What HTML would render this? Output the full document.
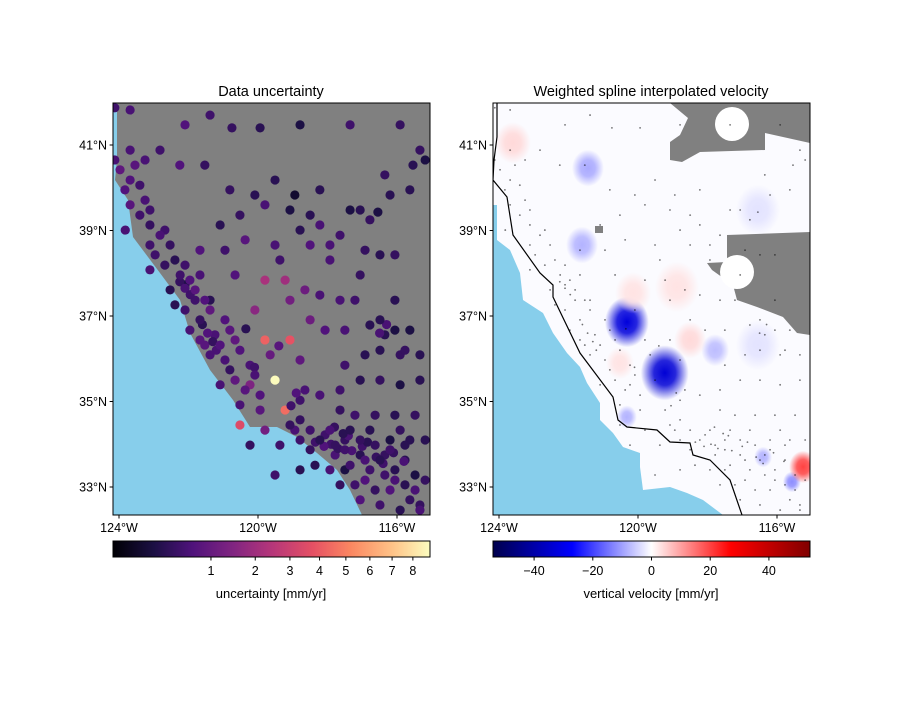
<!DOCTYPE html>
<html><head><meta charset="utf-8"><style>
body{margin:0;background:#fff;}
svg text{font-family:"Liberation Sans","DejaVu Sans",sans-serif;fill:#000;}
</style></head><body>
<svg id="fig" width="900" height="700" viewBox="0 0 900 700">
<defs>
<linearGradient id="magma" x1="0" x2="1" y1="0" y2="0">
<stop offset="0" stop-color="#000004"/><stop offset="0.13" stop-color="#1c1044"/><stop offset="0.25" stop-color="#4f127b"/><stop offset="0.38" stop-color="#812581"/><stop offset="0.5" stop-color="#b5367a"/><stop offset="0.63" stop-color="#e55064"/><stop offset="0.75" stop-color="#fb8761"/><stop offset="0.88" stop-color="#fec287"/><stop offset="1" stop-color="#fcfdbf"/>
</linearGradient>
<linearGradient id="seismic" x1="0" x2="1" y1="0" y2="0">
<stop offset="0" stop-color="#00004c"/><stop offset="0.25" stop-color="#0000ff"/><stop offset="0.5" stop-color="#ffffff"/><stop offset="0.75" stop-color="#ff0000"/><stop offset="1" stop-color="#800000"/>
</linearGradient>
<clipPath id="clipL"><rect x="113" y="103" width="317" height="412"/></clipPath>
<clipPath id="clipR"><rect x="493" y="103" width="317" height="412"/></clipPath>
</defs>

<text x="271" y="96" font-size="14.5" text-anchor="middle">Data uncertainty</text>
<g clip-path="url(#clipL)">
<rect x="113" y="103" width="317" height="412" fill="#808080"/>
<path d="M113,103 L117,103 L117,160 L115,180 L128,200 L133,237 L160,273 L180,300 L190,333 L210,370 L233,400 L250,427 L277,427 L297,437 L317,453 L337,470 L350,490 L362,515 L113,515 Z" fill="#87ceeb"/>
<g id="scatterL"></g>
</g>
<rect x="113" y="103" width="317" height="412" fill="none" stroke="#000" stroke-width="1"/>
<g id="axesL"></g>

<text x="651" y="96" font-size="14.5" text-anchor="middle">Weighted spline interpolated velocity</text>
<g clip-path="url(#clipR)">
<rect x="493" y="103" width="317" height="412" fill="#fbfbff"/>
<g id="blobs"></g>
<path d="M670,103 L810,103 L810,143 L765,133 L765,150 L700,152 L682,162 L670,160 L670,142 L680,135 L688,118 Z" fill="#808080"/>
<circle cx="732" cy="124" r="17" fill="#fff"/>
<path d="M727,235 L810,232 L810,335 L797,333 L783,317 L757,307 L737,300 L733,285 L712,270 L707,263 L727,262 Z" fill="#808080"/>
<circle cx="737" cy="272" r="17" fill="#fff"/>
<rect x="595" y="226" width="8" height="7" fill="#808080"/>
<path d="M493,205 L497,205 L497,240 L510,250 L520,273 L523,300 L543,313 L553,333 L567,353 L580,367 L587,383 L600,403 L600,420 L613,433 L623,447 L640,453 L640,467 L643,490 L670,487 L687,493 L703,500 L723,515 L493,515 Z" fill="#87ceeb"/>
<path d="M497,103 L497,137 L494,160 L493,180 L507,197 L513,235 L540,273 L553,285 L553,297 L580,353 L613,397 L618,420 L627,427 L657,430 L670,442 L690,443 L693,455 L710,460 L730,480 L742,515" fill="none" stroke="#000" stroke-width="1.2"/>
<g id="scatterR"></g>
</g>
<rect x="493" y="103" width="317" height="412" fill="none" stroke="#000" stroke-width="1"/>
<g id="axesR"></g>

<rect x="113" y="541" width="317" height="16" fill="url(#magma)" stroke="#000" stroke-width="1"/>
<g id="cbL"></g>
<text x="271" y="598" font-size="13" text-anchor="middle">uncertainty [mm/yr]</text>
<rect x="493" y="541" width="317" height="16" fill="url(#seismic)" stroke="#000" stroke-width="1"/>
<g id="cbR"></g>
<text x="651" y="598" font-size="13" text-anchor="middle">vertical velocity [mm/yr]</text>
</svg>
<script>
const lonTicks=[-124,-120,-116];
const latTicks=[41,39,37,35,33];
const uncTicks=[1,2,3,4,5,6,7,8];
const velTicks=[-40,-20,0,20,40];
const stationLon=[-124.12,-123.68,-122.10,-121.38,-120.75,-119.94,-118.79,-117.35,-115.91,-115.19,-124.12,-123.68,-123.25,-122.82,-122.25,-121.53,-120.81,-120.09,-119.51,-118.94,-118.22,-117.35,-117.06,-116.35,-115.63,-116.55,-119.80,-119.08,-118.50,-118.22,-120.52,-121.09,-123.11,-122.68,-123.68,-123.82,-123.11,-121.67,-120.95,-120.37,-119.51,-118.50,-117.93,-116.92,-116.49,-116.06,-123.11,-122.68,-122.10,-121.67,-122.53,-122.10,-121.81,-121.38,-120.66,-119.80,-119.22,-119.08,-118.65,-118.22,-118.50,-120.09,-120.95,-121.24,-121.53,-120.66,-119.80,-119.08,-118.07,-117.50,-116.78,-116.35,-115.63,-115.34,-115.91,-116.92,-117.50,-118.79,-119.65,-120.23,-120.81,-121.09,-120.23,-119.51,-118.65,-118.22,-117.64,-117.06,-116.49,-115.91,-115.34,-120.52,-119.94,-119.22,-118.79,-117.64,-117.21,-116.63,-116.06,-115.48,-120.52,-119.80,-118.94,-118.07,-117.50,-116.78,-116.20,-115.63,-115.19,-120.23,-119.37,-118.50,-117.78,-117.06,-116.35,-115.77,-119.51,-118.79,-117.50,-116.78,-116.06,-115.48,-117.21,-116.20,-115.63,-115.34,-115.91,-122.25,-122.10,-121.95,-121.60,-121.45,-121.30,-121.20,-117.90,-117.70,-117.40,-117.30,-117.00,-116.85,-116.60,-116.40,-116.10,-115.80,-117.80,-117.55,-118.35,-118.10,-119.05,-119.40,-118.90,-116.30,-116.50,-120.35,-120.10,
-123.68,-123.54,-123.40,-123.97,-123.83,-123.25,-123.40,-123.11,-122.82,-122.96,-122.53,-122.39,-122.24,-121.96,-121.81,-122.39,-122.10,-121.67,-121.53,-121.38,-121.96,-121.67,-121.38,-121.09,-120.81,-120.52,-120.95,-120.66,-120.37,-120.09,-119.94,
-118.79,-118.50,-118.22,-117.93,-117.78,-117.50,-117.35,-117.06,-116.92,-116.63,-116.49,-116.20,-115.91,-115.77,-116.06,-116.35,-116.63,-115.77,-115.48,-115.19,-117.06,-116.49,-115.34,-118.79,-119.08,-118.36,-117.93,-117.35,-117.64,-116.92,
-115.34,-115.54,-116.20,-116.78,-117.64,-118.79,-119.37,-117.93,-117.06,-116.06,-116.49,-116.06,-115.77,-116.49,-117.21,-117.64];
const stationLat=[41.87,41.82,41.47,41.70,41.40,41.40,41.47,41.47,41.47,40.65,40.65,40.18,40.65,40.88,40.53,40.53,39.95,39.83,40.18,39.83,39.95,39.48,39.48,40.30,39.95,39.43,39.60,39.48,39.36,39.13,39.36,39.13,39.48,39.01,39.60,39.01,38.66,38.54,38.54,38.78,38.66,38.66,38.66,38.54,38.43,38.43,38.08,38.19,38.19,37.96,37.61,37.73,37.37,37.37,37.96,37.84,37.84,37.37,37.61,37.49,36.91,37.14,36.91,36.56,36.32,36.44,36.44,36.44,36.67,36.67,36.79,36.56,36.67,36.09,36.09,36.09,35.85,35.97,36.09,35.85,35.74,35.39,35.39,35.50,35.27,35.15,35.27,35.50,35.50,35.39,35.50,34.92,34.80,34.80,35.03,34.80,34.68,34.68,34.68,34.68,34.45,34.33,34.33,34.22,34.10,34.33,34.10,34.10,34.10,33.98,33.98,33.87,33.75,33.75,33.75,33.63,33.28,33.40,33.40,33.40,33.40,33.28,33.05,32.93,32.70,32.58,32.46,37.80,37.65,37.50,36.80,36.60,36.40,36.20,34.00,33.90,34.20,33.85,33.95,34.05,33.70,33.55,33.80,33.60,34.40,34.25,34.05,33.95,34.90,36.30,35.20,36.80,36.60,36.70,35.80,
40.88,40.53,40.06,40.42,39.95,39.71,39.36,39.13,38.89,38.43,38.66,38.31,37.96,37.84,37.61,37.26,37.14,36.91,37.37,37.14,36.67,36.44,36.09,36.32,36.67,36.20,35.97,35.50,35.27,35.62,35.15,
34.57,34.33,34.10,34.33,33.98,33.87,34.33,34.10,33.63,33.98,33.63,33.87,34.33,33.98,33.16,33.28,32.93,33.05,32.93,33.16,32.70,32.58,32.46,34.10,34.45,33.51,33.40,33.51,33.05,33.16,
40.88,40.53,39.83,39.25,38.89,39.01,38.31,38.31,37.96,37.37,36.91,36.67,36.20,36.20,37.37,37.37];
const stationUnc=[0.5,0.6,0.7,0.5,0.4,0.3,0.2,0.5,0.4,0.2,0.6,0.7,0.6,0.5,0.7,0.4,0.4,0.3,0.3,0.1,0.3,0.2,0.3,0.4,0.3,0.2,0.6,0.2,0.3,0.6,0.4,0.3,0.5,0.5,0.8,0.6,0.5,0.7,0.5,0.8,0.6,0.7,0.6,0.4,0.3,0.4,0.6,0.4,0.5,0.6,0.3,0.2,0.5,0.3,0.7,2.2,2.0,1.2,1.1,0.6,1.1,1.6,0.7,0.6,0.8,0.9,4.2,3.8,0.7,0.6,0.3,0.3,0.2,0.3,0.4,0.3,0.5,0.9,1.0,0.6,0.4,0.6,1.4,8.8,0.6,0.6,0.5,0.3,0.4,0.2,0.3,0.6,0.8,4.5,0.5,0.4,0.5,0.4,0.3,0.4,3.5,1.2,0.6,0.5,0.4,0.3,0.2,0.3,0.3,0.4,0.5,0.4,0.6,0.3,0.4,0.3,0.5,0.3,0.2,0.5,0.3,0.2,0.5,0.7,0.4,0.4,0.3,0.4,0.6,0.5,0.3,0.7,0.4,0.6,0.5,0.4,0.6,0.6,0.5,0.3,0.4,0.5,0.4,0.6,0.4,0.3,0.5,0.7,0.5,0.8,0.7,0.6,0.6,0.3,0.5,
0.6,0.8,0.5,0.9,0.7,0.6,0.5,0.4,0.6,0.5,0.4,0.3,0.5,0.7,0.8,0.3,0.5,0.4,0.7,0.9,0.6,0.8,0.6,0.7,0.8,0.7,0.6,0.9,0.8,0.6,0.7,
0.4,0.5,0.3,0.6,0.4,0.5,0.3,0.4,0.6,0.4,0.3,0.5,0.4,0.3,0.6,0.5,0.4,0.3,0.6,0.4,0.7,0.5,0.6,0.5,0.4,0.3,0.6,0.5,0.4,0.7,
0.4,0.3,0.3,0.4,0.5,0.3,0.5,0.6,0.4,0.3,0.3,0.2,0.4,0.3,0.5,0.6];
const blobLon=[-120.32,-119.23,-121.44,-121.61,-117.78,-116.40,-115.57,-115.25,-123.60,-118.88,-118.50,-120.14,-120.52,-120.32,-116.55,-116.55];
const blobLat=[36.86,35.67,40.46,38.66,36.20,33.70,33.12,33.47,41.05,37.68,36.44,37.54,35.90,34.64,36.32,39.48];
const blobVal=[-40,-42,-9,-8,-7,-8,-12,20,4,3,4,3,3,-8,-3,-3];
const blobRad=[22,24,16,16,14,9,9,14,18,22,16,18,14,10,22,22];

const NS='http://www.w3.org/2000/svg';
function mk(tag,attrs,parent){const e=document.createElementNS(NS,tag);for(const k in attrs)e.setAttribute(k,attrs[k]);parent.appendChild(e);return e;}
function xL(lon){return 119+(lon+124)*34.75;}
function yL(lat){return 145+(41-lat)*42.75;}
function xR(lon){return xL(lon)+380;}
function uncFrac(v){return Math.min(1,Math.pow(v/8.87,0.538));}
function cbUnc(v){return 113+317*uncFrac(v);}
function cbVel(v){return 493+317*(v+54)/108;}
const magma=[[0,0,0,4],[0.13,28,16,68],[0.25,79,18,123],[0.38,129,37,129],[0.5,181,54,122],[0.63,229,80,100],[0.75,251,135,97],[0.88,254,194,135],[1,252,253,191]];
function magmaColor(v){let t=uncFrac(v);for(let i=1;i<magma.length;i++){if(t<=magma[i][0]){const a=magma[i-1],b=magma[i],f=(t-a[0])/(b[0]-a[0]);return 'rgb('+[1,2,3].map(j=>Math.round(a[j]+(b[j]-a[j])*f)).join(',')+')';}}return 'rgb(252,253,191)';}
function velColor(v){if(v<0){const f=Math.min(1,-v/27);return 'rgb('+Math.round(255*(1-f))+','+Math.round(255*(1-f))+','+Math.round(255-Math.max(0,(-v-27)/27)*75)+')';}const f=Math.min(1,v/27);return 'rgb(255,'+Math.round(255*(1-f))+','+Math.round(255*(1-f))+')';}

const sL=document.getElementById('scatterL'),sR=document.getElementById('scatterR'),bl=document.getElementById('blobs');
for(let i=0;i<stationLon.length;i++){
  const c=mk('circle',{cx:xL(stationLon[i]),cy:yL(stationLat[i]),r:4.6,fill:magmaColor(stationUnc[i])},sL);
  
  
  const d=mk('circle',{cx:xR(stationLon[i]),cy:yL(stationLat[i]),r:0.9,fill:'#000','fill-opacity':0.55},sR);
  
  
}
const defs=document.querySelector('defs');
for(let i=0;i<blobLon.length;i++){
  const g=mk('radialGradient',{id:'bg'+i},defs);
  const col=velColor(blobVal[i]);
  mk('stop',{offset:0,'stop-color':col,'stop-opacity':1},g);
  mk('stop',{offset:0.45,'stop-color':col,'stop-opacity':0.85},g);
  mk('stop',{offset:1,'stop-color':col,'stop-opacity':0},g);
  const c=mk('ellipse',{cx:xR(blobLon[i]),cy:yL(blobLat[i]),rx:blobRad[i],ry:blobRad[i]*1.15,fill:'url(#bg'+i+')'},bl);
  
  
}
function axes(gid,xf){
  const g=document.getElementById(gid);
  const x0=xf(-124.17);
  lonTicks.forEach(l=>{const x=xf(l);mk('line',{x1:x,x2:x,y1:515,y2:518.5,stroke:'#000'},g);
    const t=mk('text',{x:x,y:532,'font-size':12.5,'text-anchor':'middle'},g);t.textContent=Math.abs(l)+'°W';
    
    });
  latTicks.forEach(l=>{const y=yL(l);mk('line',{x1:x0,x2:x0-3.5,y1:y,y2:y,stroke:'#000'},g);
    const t=mk('text',{x:x0-6,y:y+4.5,'font-size':12.5,'text-anchor':'end'},g);t.textContent=l+'°N';
    
    });
}
axes('axesL',xL);axes('axesR',xR);
const cL=document.getElementById('cbL');
uncTicks.forEach(v=>{const x=cbUnc(v);mk('line',{x1:x,x2:x,y1:557,y2:560.5,stroke:'#000'},cL);
  const t=mk('text',{x:x,y:575,'font-size':12.5,'text-anchor':'middle'},cL);t.textContent=v;
  
  });
const cR=document.getElementById('cbR');
velTicks.forEach(v=>{const x=cbVel(v);mk('line',{x1:x,x2:x,y1:557,y2:560.5,stroke:'#000'},cR);
  const t=mk('text',{x:x,y:575,'font-size':12.5,'text-anchor':'middle'},cR);t.textContent=(v<0?'\u2212':'')+Math.abs(v);
  
  });
</script>
</body></html>
